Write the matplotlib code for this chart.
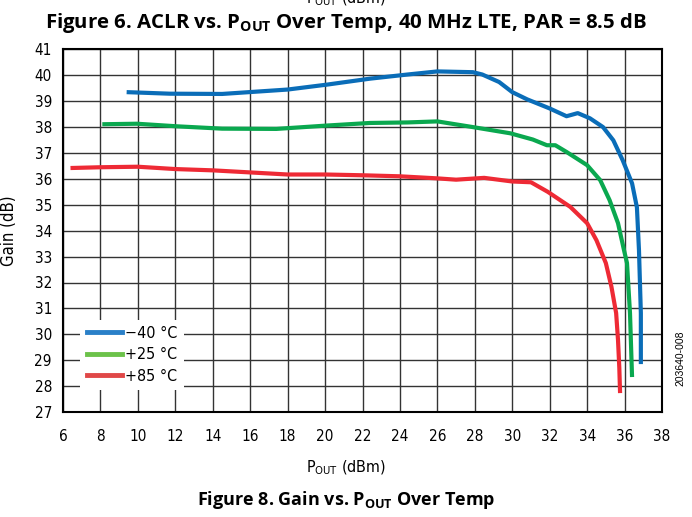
import matplotlib
matplotlib.use('Agg')
import matplotlib.pyplot as plt
from matplotlib.lines import Line2D
from matplotlib.font_manager import FontProperties

# -40 C
x_m40 = [9.4, 11.7, 14.5, 18.0, 20.1, 22.4, 24.4, 26.0, 27.9, 28.4, 29.3, 30.0, 30.8,
         32.0, 32.9, 33.5, 34.15, 34.85, 35.4, 35.9, 36.4, 36.66, 36.77, 36.87, 36.87]
y_m40 = [39.35, 39.29, 39.28, 39.45, 39.64, 39.87, 40.03, 40.15, 40.12, 40.03, 39.74, 39.35, 39.07,
         38.72, 38.42, 38.54, 38.34, 38.0, 37.49, 36.72, 35.83, 34.9, 33.25, 30.82, 28.85]

# +25 C
x_25 = [8.1, 9.95, 12.1, 14.5, 17.4, 20.1, 22.4, 24.4, 26.0, 27.9, 29.9, 31.1, 31.85, 32.3,
        32.9, 34.0, 34.7, 35.2, 35.65, 35.97, 36.13, 36.29, 36.4]
y_25 = [38.11, 38.13, 38.03, 37.94, 37.93, 38.06, 38.16, 38.18, 38.22, 38.0, 37.76, 37.52, 37.3, 37.3,
        37.04, 36.53, 35.95, 35.18, 34.29, 33.25, 32.75, 30.82, 28.35]

# +85 C
x_85 = [6.4, 8, 10, 12, 14, 16, 18, 20, 22, 24, 26, 27, 28.5, 30, 31, 31.9, 33.1,
        34, 34.5, 35, 35.3, 35.55, 35.65, 35.72, 35.76]
y_85 = [36.42, 36.45, 36.47, 36.38, 36.33, 36.25, 36.17, 36.17, 36.14, 36.1, 36.02, 35.97, 36.04,
        35.9, 35.87, 35.5, 34.92, 34.29, 33.63, 32.75, 31.83, 30.82, 29.78, 28.7, 27.73]

labels = ['\u221240 \u00b0C', '+25 \u00b0C', '+85 \u00b0C']
colors = ['#0a6db8', '#0aa84f', '#ee2a35']
legend_colors = ['#2a80c8', '#6cc24a', '#e04848']

bold_font = ['Open Sans', 'DejaVu Sans']


def narrow(size):
    return FontProperties(family='DejaVu Sans', stretch='condensed', size=size)


fig = plt.figure(figsize=(6.92, 5.17), dpi=100)
ax = fig.add_axes([63 / 692, 1 - 412 / 517, 599 / 692, 362.6 / 517])

for x, y, c in zip([x_m40, x_25, x_85], [y_m40, y_25, y_85], colors):
    ax.plot(x, y, color=c, lw=3, solid_capstyle='butt', zorder=3)

ax.set_xlim(6, 38)
ax.set_ylim(27, 41)
ax.set_xticks(range(6, 39, 2))
ax.set_yticks(range(27, 42))
ax.grid(True, color='#333333', lw=1)
ax.tick_params(length=0, pad=12)
ax.tick_params(axis='y', pad=8)
for lab in ax.get_xticklabels() + ax.get_yticklabels():
    lab.set_fontproperties(narrow(11))
for s in ax.spines.values():
    s.set_linewidth(1.5)

handles = [Line2D([], [], color=c, lw=3.5) for c in legend_colors]
leg = ax.legend(handles, labels, loc='lower left', bbox_to_anchor=(0.029, 0.06),
                frameon=True, framealpha=1, edgecolor='none', fancybox=False,
                handlelength=2.2, handletextpad=0.2, labelspacing=0.4,
                prop=narrow(11.5), borderpad=0.4, borderaxespad=0)
leg.set_zorder(5)

ax.set_ylabel('Gain (dB)', fontproperties=narrow(12), labelpad=12)

fig.text(0.5, 1 - 468 / 517, r'P$_{\mathregular{OUT}}$ (dBm)', ha='center', va='center',
         fontproperties=narrow(11.5))
# bottom edge of the previous figure's axis label, cut off at the top
fig.text(0.5, 1 + 1 / 517, r'P$_{\mathregular{OUT}}$ (dBm)', ha='center', va='center',
         fontproperties=narrow(11.5))
fig.text(0.5, 1 - 23 / 517, r'Figure 6. ACLR vs. P$_{\mathregular{OUT}}$ Over Temp, 40 MHz LTE, PAR = 8.5 dB',
         ha='center', va='center', fontsize=14.7, fontweight='bold', family=bold_font)
fig.text(0.5, 1 - 500 / 517, r'Figure 8. Gain vs. P$_{\mathregular{OUT}}$ Over Temp',
         ha='center', va='center', fontsize=13, fontweight='bold', family=bold_font)
fig.text(680 / 692, 1 - 358 / 517, '203640-008', rotation=90, ha='center', va='center',
         fontsize=7.5, family=['Liberation Sans', 'DejaVu Sans'])

fig.savefig('out.png', dpi=100)
